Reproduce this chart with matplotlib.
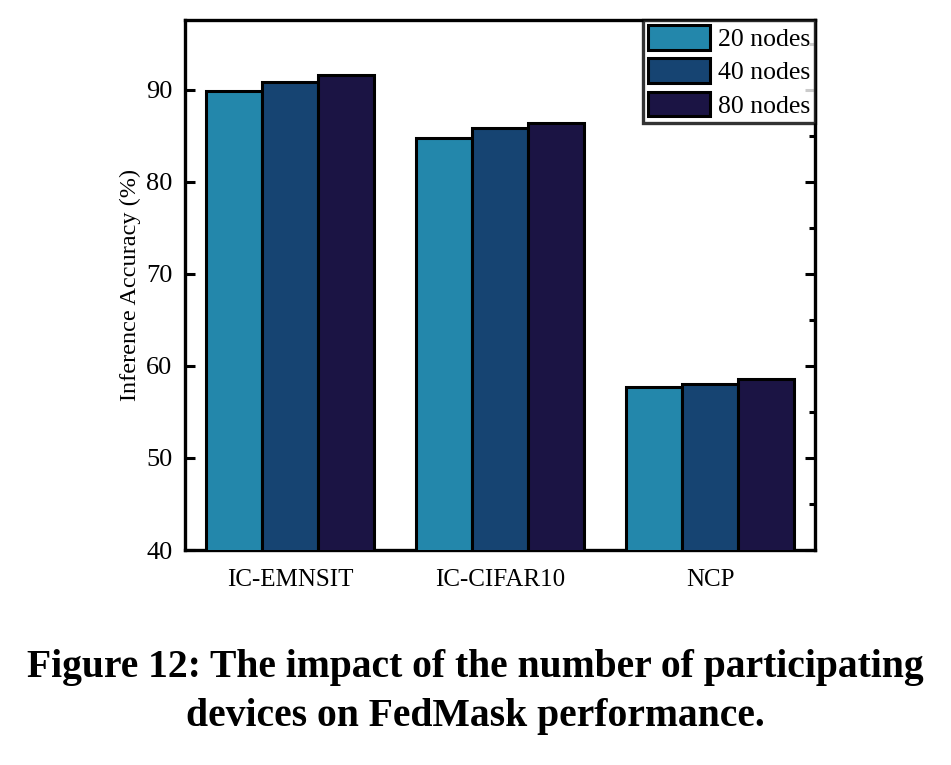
import numpy as np
import matplotlib
matplotlib.use("Agg")
import matplotlib.pyplot as plt
from matplotlib.ticker import MultipleLocator

plt.rcParams['font.family'] = ['Liberation Serif', 'DejaVu Serif']

categories = ['IC-EMNSIT', 'IC-CIFAR10', 'NCP']
series_names = ['20 nodes', '40 nodes', '80 nodes']
acc_20 = [89.9, 84.8, 57.75]
acc_40 = [90.8, 85.9, 58.05]
acc_80 = [91.6, 86.4, 58.6]
colores = ['#2387AB', '#164472', '#1B1444']

fig = plt.figure(figsize=(9.51, 7.65), dpi=100)
ax = fig.add_axes([0.1945, 0.281, 0.6625, 0.693])

x = np.arange(len(categories))
ancho = 0.267
for i, (nombre, vals) in enumerate(zip(series_names, [acc_20, acc_40, acc_80])):
    ax.bar(x + (i - 1) * ancho, vals, ancho, color=colores[i], edgecolor='black',
           linewidth=2.2, label=nombre, zorder=3)

ax.set_xlim(-0.5, 2.5)
ax.set_ylim(40, 97.6)
ax.set_xticks(x)
ax.set_xticklabels(categories, fontsize=18)
ax.yaxis.set_major_locator(MultipleLocator(10))
ax.yaxis.set_minor_locator(MultipleLocator(5))
ax.tick_params(axis='y', which='major', direction='in', length=7, width=2.2,
               labelsize=19, right=True, left=True, pad=9)
ax.tick_params(axis='y', which='minor', direction='in', length=4, width=2.2,
               right=True, left=False)
ax.tick_params(axis='x', length=0, pad=14)
ax.set_ylabel('Inference Accuracy (%)', fontsize=17.5, labelpad=4)
for s in ax.spines.values():
    s.set_linewidth(2.4)

leg = ax.legend(loc='upper right', fontsize=18.5, frameon=True, fancybox=False,
                handlelength=2.4, handleheight=1.1, borderpad=0.2,
                labelspacing=0.28, handletextpad=0.3, borderaxespad=0.0)
leg.get_frame().set_edgecolor('black')
leg.get_frame().set_linewidth(2.4)

fig.text(0.5, 0.127, 'Figure 12: The impact of the number of participating',
         ha='center', va='center', fontsize=28.5, fontweight='bold')
fig.text(0.5, 0.064, 'devices on FedMask performance.',
         ha='center', va='center', fontsize=28.5, fontweight='bold')

fig.savefig('out.png', dpi=100)
